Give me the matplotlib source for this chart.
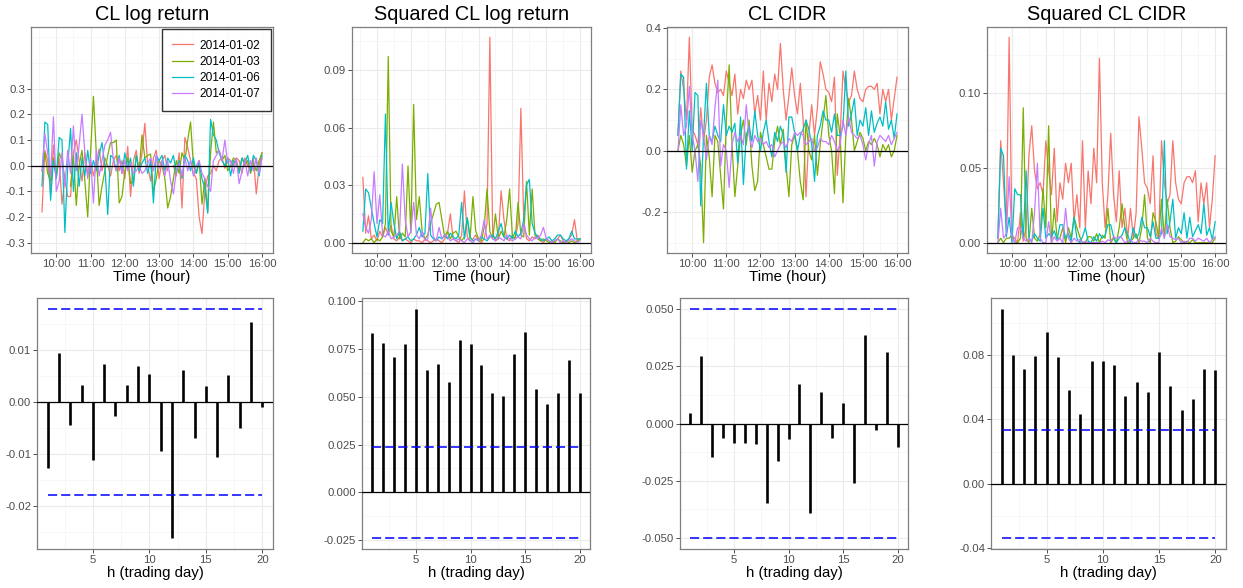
import numpy as np
import matplotlib
matplotlib.use("Agg")
import matplotlib.pyplot as plt

plt.rcParams['font.family'] = ['Liberation Sans', 'DejaVu Sans']

days = ['2014-01-02', '2014-01-03', '2014-01-06', '2014-01-07']
colors = ['#F8766D', '#7CAE00', '#00BFC4', '#C77CFF']

# 5-minute bars, 9:35 .. 16:00
hours = 9 + 35 / 60 + np.arange(78) * 5 / 60
hour_ticks = [10, 11, 12, 13, 14, 15, 16]
hour_labels = ['10:00', '11:00', '12:00', '13:00', '14:00', '15:00', '16:00']

# ---- CL log return (values below -0.3 fall outside the plotted scale)
lr_0102 = [-0.18, 0.06, 0.02, -0.11, 0.08, -0.05, 0.03, -0.15, -0.05, -0.12, -0.12, 0.05, 0.10,
           0.02, -0.06, 0.05, -0.03, 0.02, -0.04, 0.01, 0.065, -0.02, 0.03, 0.0, -0.04, 0.02,
           0.04, -0.02, 0.02, -0.05, 0.075, -0.12, 0.02, 0.06, -0.03, 0.05, 0.165, 0.0, -0.06,
           0.03, 0.06, -0.05, 0.02, 0.04, -0.02, -0.33, 0.0, -0.04, 0.05, -0.165, 0.11, 0.07,
           0.02, -0.03, -0.05, -0.2, -0.265, -0.1, -0.04, -0.03, 0.0, -0.02, 0.02, 0.03, -0.01,
           0.03, 0.02, 0.0, 0.03, 0.02, -0.03, 0.03, 0.0, -0.02, 0.03, -0.11, 0.0, 0.05]
lr_0103 = [-0.02, 0.05, -0.03, -0.06, 0.03, -0.04, 0.05, 0.02, -0.05, -0.31, -0.08, 0.04, -0.155,
           0.0, 0.06, -0.06, -0.2, 0.05, 0.27, 0.05, -0.155, -0.08, -0.02, 0.04, 0.09, 0.09,
           0.1, -0.145, -0.12, -0.02, 0.03, -0.07, -0.06, 0.04, -0.02, 0.12, 0.03, 0.04, 0.045,
           -0.1, -0.05, 0.02, 0.0, -0.05, -0.165, -0.12, -0.05, 0.02, -0.03, 0.05, 0.02, 0.1,
           0.17, 0.0, -0.03, 0.02, -0.15, -0.05, -0.18, 0.05, 0.17, 0.05, 0.06, 0.02, 0.04,
           -0.02, 0.0, 0.03, 0.02, -0.02, 0.03, 0.0, 0.02, -0.03, 0.01, -0.02, 0.02, 0.05]
lr_0106 = [-0.08, 0.17, 0.16, -0.135, 0.02, -0.05, 0.11, 0.1, -0.26, 0.0, 0.145, -0.1, 0.05,
           -0.08, 0.03, -0.04, 0.06, -0.03, 0.02, -0.02, 0.04, 0.09, 0.0, -0.19, 0.04, 0.03,
           -0.02, 0.04, -0.03, 0.05, -0.01, 0.03, -0.08, 0.04, -0.02, 0.01, 0.03, -0.03, 0.02,
           -0.145, 0.04, 0.02, 0.04, -0.02, 0.03, 0.01, 0.04, -0.03, 0.02, -0.05, 0.04, 0.02,
           -0.02, 0.03, -0.03, 0.01, -0.05, -0.09, -0.185, 0.18, 0.12, 0.1, 0.05, 0.02, 0.0,
           0.03, -0.04, 0.02, 0.01, -0.03, 0.03, 0.01, 0.04, -0.02, 0.04, 0.02, -0.04, 0.04]
lr_0107 = [-0.02, 0.125, 0.05, -0.04, 0.19, -0.1, -0.06, 0.05, -0.08, 0.06, -0.03, 0.155, -0.02,
           0.08, 0.2, 0.05, -0.05, 0.03, -0.145, 0.06, -0.04, 0.02, 0.08, 0.1, 0.13, 0.02,
           -0.02, 0.03, -0.03, 0.02, -0.02, 0.01, -0.03, -0.02, 0.0, -0.03, -0.02, 0.01, 0.03,
           -0.02, 0.04, -0.01, 0.02, -0.04, 0.02, -0.06, -0.11, -0.02, 0.01, -0.04, 0.03, -0.02,
           0.02, -0.04, 0.0, 0.02, -0.03, -0.05, -0.08, -0.1, 0.02, 0.04, 0.06, 0.02, 0.1,
           0.01, 0.02, -0.03, 0.03, -0.07, -0.02, 0.02, -0.04, 0.02, -0.02, 0.03, -0.03, 0.03]

# ---- Squared CL log return
sq_0102 = [0.034, 0.005, 0.014, 0.002, 0.004, 0.001, 0.006, 0.003, 0.008, 0.004, 0.009, 0.002, 0.001,
           0.003, 0.001, 0.002, 0.001, 0.0, 0.002, 0.001, 0.001, 0.0, 0.002, 0.001, 0.0, 0.001,
           0.002, 0.001, 0.0, 0.002, 0.005, 0.015, 0.002, 0.001, 0.0, 0.004, 0.027, 0.003, 0.001,
           0.002, 0.004, 0.001, 0.0, 0.002, 0.01, 0.107, 0.005, 0.001, 0.002, 0.027, 0.012, 0.002,
           0.001, 0.004, 0.002, 0.01, 0.07, 0.012, 0.002, 0.001, 0.003, 0.002, 0.004, 0.001, 0.0,
           0.002, 0.001, 0.0, 0.001, 0.002, 0.004, 0.001, 0.0, 0.002, 0.004, 0.012, 0.001, 0.002]
sq_0103 = [0.0, 0.002, 0.001, 0.002, 0.0, 0.002, 0.001, 0.003, 0.01, 0.097, 0.006, 0.003, 0.024,
           0.002, 0.005, 0.003, 0.04, 0.005, 0.072, 0.012, 0.024, 0.006, 0.002, 0.004, 0.01, 0.015,
           0.02, 0.021, 0.012, 0.003, 0.006, 0.002, 0.005, 0.006, 0.003, 0.001, 0.003, 0.013, 0.002,
           0.024, 0.006, 0.002, 0.001, 0.008, 0.028, 0.006, 0.002, 0.015, 0.002, 0.006, 0.003, 0.012,
           0.028, 0.003, 0.002, 0.021, 0.004, 0.003, 0.032, 0.004, 0.028, 0.004, 0.002, 0.001, 0.002,
           0.001, 0.0, 0.001, 0.0, 0.002, 0.001, 0.0, 0.001, 0.0, 0.001, 0.0, 0.001, 0.002]
sq_0106 = [0.006, 0.028, 0.026, 0.018, 0.01, 0.003, 0.012, 0.01, 0.067, 0.004, 0.021, 0.01, 0.002,
           0.006, 0.001, 0.002, 0.003, 0.001, 0.002, 0.004, 0.008, 0.003, 0.005, 0.036, 0.004, 0.002,
           0.001, 0.003, 0.002, 0.004, 0.002, 0.005, 0.003, 0.002, 0.004, 0.021, 0.002, 0.013, 0.003,
           0.001, 0.002, 0.001, 0.003, 0.002, 0.001, 0.003, 0.004, 0.002, 0.006, 0.01, 0.003, 0.002,
           0.004, 0.002, 0.006, 0.003, 0.005, 0.012, 0.03, 0.033, 0.01, 0.005, 0.003, 0.002, 0.001,
           0.002, 0.003, 0.001, 0.002, 0.004, 0.004, 0.002, 0.001, 0.002, 0.006, 0.002, 0.002, 0.002]
sq_0107 = [0.015, 0.008, 0.005, 0.012, 0.037, 0.01, 0.025, 0.004, 0.003, 0.006, 0.002, 0.003, 0.004,
           0.006, 0.041, 0.012, 0.003, 0.006, 0.021, 0.004, 0.002, 0.006, 0.001, 0.002, 0.018, 0.003,
           0.001, 0.008, 0.002, 0.004, 0.003, 0.001, 0.002, 0.001, 0.002, 0.001, 0.0, 0.002, 0.001,
           0.0, 0.002, 0.001, 0.004, 0.012, 0.002, 0.004, 0.002, 0.001, 0.003, 0.002, 0.001, 0.004,
           0.002, 0.001, 0.002, 0.003, 0.002, 0.01, 0.004, 0.002, 0.001, 0.003, 0.002, 0.004, 0.008,
           0.002, 0.001, 0.0, 0.001, 0.002, 0.0, 0.001, 0.0, 0.001, 0.002, 0.001, 0.0, 0.001]

# ---- CL CIDR
cidr_0102 = [0.05, 0.26, 0.2, 0.1, 0.37, 0.07, 0.05, 0.02, 0.14, 0.03, 0.1, 0.24, 0.28,
             0.22, 0.19, 0.2, 0.18, 0.26, 0.22, 0.18, 0.25, 0.12, 0.2, 0.17, 0.23, 0.2,
             0.23, 0.12, 0.18, 0.1, 0.26, 0.1, 0.22, 0.16, 0.25, 0.2, 0.35, 0.2, 0.1,
             0.18, 0.27, 0.18, 0.12, 0.22, 0.1, -0.15, 0.05, 0.15, 0.05, 0.14, 0.29, 0.25,
             0.2, 0.19, 0.16, 0.24, -0.08, 0.05, 0.26, 0.2, 0.16, 0.18, 0.26, 0.2, 0.17,
             0.16, 0.2, 0.21, 0.21, 0.2, 0.22, 0.12, 0.2, 0.16, 0.2, 0.1, 0.17, 0.24]
cidr_0103 = [0.0, 0.05, 0.02, -0.05, 0.05, -0.07, 0.0, 0.02, -0.05, -0.3, 0.05, -0.02, -0.15,
             0.05, 0.03, -0.08, -0.19, 0.1, 0.28, 0.02, -0.15, -0.05, 0.05, 0.1, 0.02, 0.1,
             -0.05, -0.13, -0.1, 0.06, 0.02, -0.02, -0.06, -0.06, 0.03, 0.08, 0.02, 0.07, -0.05,
             -0.15, 0.02, 0.05, 0.0, -0.1, -0.16, 0.1, 0.0, -0.03, 0.05, -0.08, 0.02, 0.1,
             0.18, 0.05, 0.0, -0.14, 0.12, 0.05, -0.17, 0.05, 0.17, 0.1, 0.0, 0.03, 0.06,
             0.04, 0.0, 0.03, 0.02, 0.04, 0.02, -0.02, 0.02, 0.0, 0.02, -0.02, 0.0, 0.05]
cidr_0106 = [0.05, 0.25, 0.24, -0.06, 0.13, 0.0, 0.19, 0.18, -0.18, 0.05, 0.22, 0.05, 0.03,
             0.08, 0.05, 0.03, 0.15, 0.05, 0.08, 0.06, 0.09, -0.04, 0.11, -0.11, 0.05, 0.08,
             0.03, 0.13, 0.05, 0.0, 0.06, 0.1, 0.03, -0.02, 0.06, 0.03, 0.08, 0.05, -0.07,
             0.11, 0.11, 0.06, 0.0, 0.05, 0.07, 0.1, 0.07, 0.02, -0.1, 0.05, 0.08, 0.13,
             0.1, 0.1, 0.06, 0.12, 0.05, 0.05, 0.08, 0.26, 0.08, 0.12, 0.17, 0.05, 0.1,
             0.08, 0.14, 0.05, 0.13, 0.06, 0.09, 0.11, 0.08, 0.16, 0.07, 0.1, 0.04, 0.12]
cidr_0107 = [0.0, 0.15, 0.05, 0.08, 0.21, 0.05, 0.0, -0.1, 0.1, 0.05, -0.03, 0.05, 0.02,
             0.14, 0.23, -0.05, 0.02, 0.0, -0.12, 0.02, 0.06, 0.03, 0.05, 0.02, 0.15, 0.05,
             0.01, 0.05, 0.03, 0.04, 0.02, 0.03, 0.01, 0.02, -0.02, 0.0, 0.02, 0.03, 0.01,
             0.04, 0.03, 0.06, 0.05, 0.06, 0.05, 0.02, 0.03, 0.04, 0.0, 0.01, 0.04, 0.03,
             0.03, 0.02, 0.05, 0.03, 0.0, 0.02, 0.1, 0.05, 0.11, 0.06, 0.05, 0.04, 0.05,
             0.02, -0.03, 0.02, 0.05, -0.05, 0.03, 0.05, 0.04, 0.03, 0.05, 0.02, 0.04, 0.06]

# ---- Squared CL CIDR
sqc_0102 = [0.003, 0.068, 0.04, 0.01, 0.137, 0.005, 0.003, 0.0, 0.02, 0.001, 0.01, 0.058, 0.078,
            0.048, 0.036, 0.04, 0.032, 0.068, 0.048, 0.032, 0.063, 0.014, 0.04, 0.029, 0.053, 0.04,
            0.053, 0.014, 0.032, 0.01, 0.068, 0.01, 0.048, 0.026, 0.063, 0.04, 0.123, 0.04, 0.01,
            0.032, 0.073, 0.032, 0.014, 0.048, 0.01, 0.023, 0.003, 0.023, 0.003, 0.02, 0.084, 0.063,
            0.04, 0.036, 0.026, 0.058, 0.006, 0.003, 0.068, 0.04, 0.026, 0.032, 0.068, 0.04, 0.029,
            0.026, 0.04, 0.044, 0.044, 0.04, 0.048, 0.014, 0.04, 0.026, 0.04, 0.01, 0.029, 0.058]
sqc_0103 = [0.0, 0.003, 0.0, 0.003, 0.003, 0.005, 0.0, 0.0, 0.003, 0.09, 0.003, 0.0, 0.023,
            0.003, 0.001, 0.006, 0.036, 0.01, 0.078, 0.0, 0.023, 0.003, 0.003, 0.01, 0.0, 0.01,
            0.003, 0.017, 0.01, 0.004, 0.0, 0.0, 0.004, 0.004, 0.001, 0.006, 0.0, 0.005, 0.003,
            0.023, 0.0, 0.003, 0.0, 0.01, 0.026, 0.01, 0.0, 0.001, 0.003, 0.006, 0.0, 0.01,
            0.032, 0.003, 0.0, 0.02, 0.014, 0.003, 0.029, 0.003, 0.029, 0.01, 0.0, 0.001, 0.004,
            0.002, 0.0, 0.001, 0.0, 0.002, 0.0, 0.0, 0.0, 0.0, 0.0, 0.0, 0.0, 0.003]
sqc_0106 = [0.003, 0.063, 0.058, 0.004, 0.017, 0.0, 0.036, 0.032, 0.032, 0.003, 0.048, 0.003, 0.001,
            0.006, 0.003, 0.001, 0.023, 0.003, 0.006, 0.004, 0.008, 0.002, 0.012, 0.012, 0.003, 0.006,
            0.001, 0.017, 0.003, 0.0, 0.004, 0.01, 0.001, 0.0, 0.004, 0.001, 0.006, 0.003, 0.005,
            0.012, 0.012, 0.004, 0.0, 0.003, 0.005, 0.01, 0.005, 0.0, 0.01, 0.003, 0.006, 0.017,
            0.01, 0.01, 0.004, 0.014, 0.003, 0.003, 0.006, 0.068, 0.006, 0.014, 0.029, 0.003, 0.01,
            0.006, 0.02, 0.003, 0.017, 0.004, 0.008, 0.012, 0.006, 0.026, 0.005, 0.01, 0.002, 0.014]
sqc_0107 = [0.0, 0.023, 0.003, 0.006, 0.044, 0.003, 0.0, 0.01, 0.01, 0.003, 0.001, 0.003, 0.0,
            0.02, 0.053, 0.003, 0.0, 0.0, 0.014, 0.0, 0.004, 0.001, 0.003, 0.0, 0.023, 0.003,
            0.0, 0.003, 0.001, 0.002, 0.0, 0.001, 0.0, 0.0, 0.0, 0.0, 0.0, 0.001, 0.0,
            0.002, 0.001, 0.004, 0.003, 0.004, 0.003, 0.0, 0.001, 0.002, 0.0, 0.0, 0.002, 0.001,
            0.001, 0.0, 0.003, 0.001, 0.0, 0.0, 0.01, 0.003, 0.012, 0.004, 0.003, 0.002, 0.003,
            0.0, 0.001, 0.0, 0.003, 0.003, 0.001, 0.003, 0.002, 0.001, 0.003, 0.0, 0.002, 0.004]

# ---- ACF (lags 1..20) and confidence bounds
lags = np.arange(1, 21)
acf_lr = [-0.0127, 0.0095, -0.0043, 0.0033, -0.0112, 0.0074, -0.0026, 0.0033, 0.0069, 0.0054,
          -0.0094, -0.0261, 0.0062, -0.0069, 0.0031, -0.0105, 0.0052, -0.0049, 0.0154, -0.001]
acf_sq = [0.0831, 0.0782, 0.0706, 0.0774, 0.0957, 0.0639, 0.0672, 0.0578, 0.0796, 0.0774,
          0.0664, 0.0517, 0.0505, 0.0726, 0.0841, 0.054, 0.0462, 0.0521, 0.0692, 0.0521]
acf_cidr = [0.0045, 0.0294, -0.0145, -0.0065, -0.0083, -0.0087, -0.0089, -0.0346, -0.0163, -0.0067,
            0.0174, -0.039, 0.0137, -0.0064, 0.0089, -0.0259, 0.0388, -0.0028, 0.0313, -0.0102]
acf_sqc = [0.1082, 0.0802, 0.0711, 0.0794, 0.0943, 0.0788, 0.0584, 0.0435, 0.0759, 0.0759,
           0.0738, 0.0543, 0.063, 0.057, 0.0815, 0.0607, 0.046, 0.0528, 0.0713, 0.0703]
ci_lr, ci_sq, ci_cidr, ci_sqc = 0.0179, 0.0237, 0.0498, 0.0334

W, H = 1243, 588
fig = plt.figure(figsize=(W / 100, H / 100), dpi=100)


def box(l, t, r, b):
    return [l / W, 1 - b / H, (r - l) / W, (b - t) / H]


def expand(lo, hi, f=0.05):
    d = (hi - lo) * f
    return lo - d, hi + d


def style(ax, yt, ylab, ymin, xt, xlab, xmin):
    for s in ax.spines.values():
        s.set_color('#7F7F7F')
        s.set_linewidth(0.9)
    ax.set_xticks(xt)
    ax.set_xticklabels(xlab)
    ax.set_xticks(xmin, minor=True)
    ax.set_yticks(yt)
    ax.set_yticklabels(ylab)
    ax.set_yticks(ymin, minor=True)
    ax.grid(which='major', color='#EBEBEB', lw=0.8)
    ax.grid(which='minor', color='#F4F4F4', lw=0.5)
    ax.set_axisbelow(True)
    ax.tick_params(which='major', length=2.7, width=0.6, color='#333333',
                   labelsize=8.2, labelcolor='#4D4D4D', pad=1.5)
    ax.tick_params(which='minor', length=0)


top_boxes = [(31, 27, 273, 253), (352, 27, 591, 253), (667, 27, 908, 253), (987, 27, 1226, 253)]
bot_boxes = [(37, 298, 273, 549), (362, 298, 590, 549), (680, 298, 908, 549), (991, 298, 1226, 549)]

titles = ['CL log return', 'Squared CL log return', 'CL CIDR', 'Squared CL CIDR']
top_series = [
    [lr_0102, lr_0103, lr_0106, lr_0107],
    [sq_0102, sq_0103, sq_0106, sq_0107],
    [cidr_0102, cidr_0103, cidr_0106, cidr_0107],
    [sqc_0102, sqc_0103, sqc_0106, sqc_0107],
]
top_yticks = [
    ([-0.3, -0.2, -0.1, 0.0, 0.1, 0.2, 0.3], ['-0.3', '-0.2', '-0.1', '0.0', '0.1', '0.2', '0.3'],
     [-0.25, -0.15, -0.05, 0.05, 0.15, 0.25, 0.4, 0.5]),
    ([0.0, 0.03, 0.06, 0.09], ['0.00', '0.03', '0.06', '0.09'], [0.015, 0.045, 0.075, 0.105]),
    ([-0.2, 0.0, 0.2, 0.4], ['-0.2', '0.0', '0.2', '0.4'], [-0.3, -0.1, 0.1, 0.3]),
    ([0.0, 0.05, 0.10], ['0.00', '0.05', '0.10'], [0.025, 0.075, 0.125]),
]
xlim_top = expand(hours[0], hours[-1])
hour_minor = [9.5, 10.5, 11.5, 12.5, 13.5, 14.5, 15.5]

for k in range(4):
    ax = fig.add_axes(box(*top_boxes[k]))
    series = top_series[k]
    for vals, c, d in zip(series, colors, days):
        v = np.array(vals, dtype=float)
        if k == 0:
            v = np.where(v < -0.3, np.nan, v)  # outside scale limits
        ax.plot(hours, v, color=c, lw=0.9, label=d)
    ax.axhline(0, color='black', lw=0.9, zorder=5)
    if k == 0:
        ax.set_ylim(expand(-0.3, 0.5))
    else:
        allv = np.concatenate([np.array(s, dtype=float) for s in series])
        ax.set_ylim(expand(min(allv.min(), 0), allv.max()))
    ax.set_xlim(xlim_top)
    yt, yl, ym = top_yticks[k]
    style(ax, yt, yl, ym, hour_ticks, hour_labels, hour_minor)
    ax.set_title(titles[k], fontsize=14.3, pad=5)
    ax.set_xlabel('Time (hour)', fontsize=10.8, labelpad=1)
    if k == 0:
        leg = ax.legend(loc='upper right', bbox_to_anchor=(0.993, 0.992), fontsize=8.6,
                        frameon=True, fancybox=False, handlelength=1.7, handletextpad=0.6,
                        labelspacing=0.35, borderpad=0.9, borderaxespad=0)
        leg.get_frame().set_edgecolor('black')
        leg.get_frame().set_linewidth(1.0)
        for line in leg.get_lines():
            line.set_linewidth(0.9)

acfs = [acf_lr, acf_sq, acf_cidr, acf_sqc]
cis = [ci_lr, ci_sq, ci_cidr, ci_sqc]
bot_yticks = [
    ([-0.02, -0.01, 0.0, 0.01], ['-0.02', '-0.01', '0.00', '0.01'], [-0.025, -0.015, -0.005, 0.005, 0.015]),
    ([-0.025, 0.0, 0.025, 0.05, 0.075, 0.1], ['-0.025', '0.000', '0.025', '0.050', '0.075', '0.100'],
     [-0.0125, 0.0125, 0.0375, 0.0625, 0.0875]),
    ([-0.05, -0.025, 0.0, 0.025, 0.05], ['-0.050', '-0.025', '0.000', '0.025', '0.050'],
     [-0.0375, -0.0125, 0.0125, 0.0375]),
    ([-0.04, 0.0, 0.04, 0.08], ['-0.04', '0.00', '0.04', '0.08'], [-0.02, 0.02, 0.06, 0.1]),
]

for k in range(4):
    ax = fig.add_axes(box(*bot_boxes[k]))
    a = np.array(acfs[k])
    ci = cis[k]
    ax.vlines(lags, 0, a, color='black', lw=1.9, zorder=3)
    ax.axhline(0, color='black', lw=0.9, zorder=4)
    ax.hlines([ci, -ci], 1, 20, color='blue', lw=1.1, linestyles=(0, (6, 2.6)), zorder=4)
    ax.set_xlim(expand(1, 20))
    ax.set_ylim(expand(min(a.min(), -ci), max(a.max(), ci)))
    yt, yl, ym = bot_yticks[k]
    style(ax, yt, yl, ym, [5, 10, 15, 20], ['5', '10', '15', '20'], [2.5, 7.5, 12.5, 17.5])
    ax.set_xlabel('h (trading day)', fontsize=10.8, labelpad=1)

fig.savefig('out.png', dpi=100)
